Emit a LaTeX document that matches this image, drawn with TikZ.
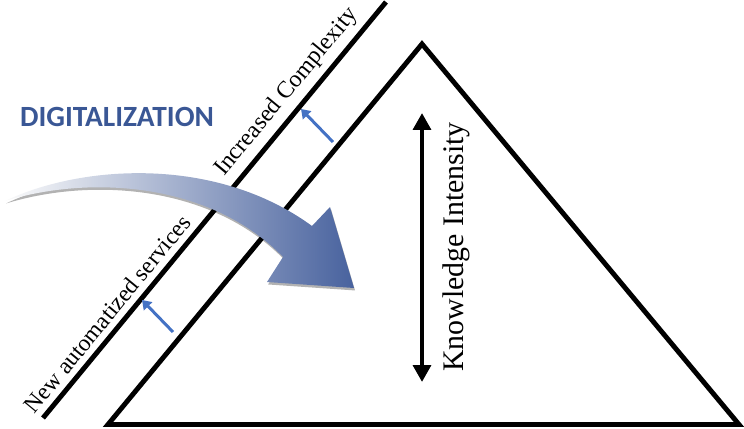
\documentclass[tikz,border=0pt]{standalone}
\usepackage{fontspec}
\setmainfont{Liberation Serif}
\newfontfamily\calfont{Carlito}
\usepackage{tikz}
\usetikzlibrary{arrows.meta,shadows,calc}

\definecolor{digiblue}{RGB}{58,87,149}
\definecolor{headblue}{RGB}{72,98,158}
\definecolor{smallblue}{RGB}{68,114,196}

\tikzset{
  thickline/.style = {line width=2.8pt, line join=miter},
  smallarrow/.style = {smallblue, line width=1.7pt, -{Triangle[length=5pt,width=6.5pt]}},
}

\begin{document}
\begin{tikzpicture}[x=0.02cm, y=-0.02cm]
\useasboundingbox (0,0) rectangle (744,429);

\coordinate (apex) at (422,44);
\coordinate (bl) at (108,424.5);
\coordinate (br) at (739,424.5);

\coordinate (dbot) at (43,418);
\coordinate (dtop) at (386,2);

\coordinate (katop) at (422,113);
\coordinate (kabot) at (422,382);

\coordinate (s1) at (173,332);
\coordinate (e1) at (142,300);
\coordinate (s2) at (333,142);
\coordinate (e2) at (301,109);

\coordinate (tail) at (5,201);

% pyramid and the line of new services
\draw[thickline] (bl) -- (apex) -- (br) -- cycle;
\draw[thickline] (dbot) -- (dtop)
  node[pos=0.225, sloped, above] (newsrv) {\fontsize{13.4}{16}\selectfont New automatized services}
  node[pos=0.754, sloped, above] (cmplx) {\fontsize{13.6}{16}\selectfont Increased Complexity};

\foreach \s/\e in {s1/e1,s2/e2}
{ \draw[smallarrow] (\s) -- (\e); }

% knowledge axis
\draw[thickline, {Triangle[length=9.6pt,width=10pt]}-{Triangle[length=9.6pt,width=10pt]}] (katop) -- (kabot);
\node[rotate=90] (know) at (456,247) {\fontsize{17}{20}\selectfont Knowledge Intensity};

% big curved arrow
\shade[left color=gray!3, middle color=headblue!35!white, right color=headblue,
  drop shadow={shadow xshift=0.6pt, shadow yshift=-1.4pt, opacity=0.3, fill=black}]
  (tail) .. controls (80,165) and (215,155) .. (312,226)
  -- (330,207) -- (354,288) -- (267,282) -- (283,257)
  .. controls (210,182) and (90,175) .. (tail) -- cycle;

\node[text=digiblue] (digi) at (117,117) {\calfont\bfseries\fontsize{16.7}{20}\selectfont DIGITALIZATION};

\end{tikzpicture}
\end{document}
